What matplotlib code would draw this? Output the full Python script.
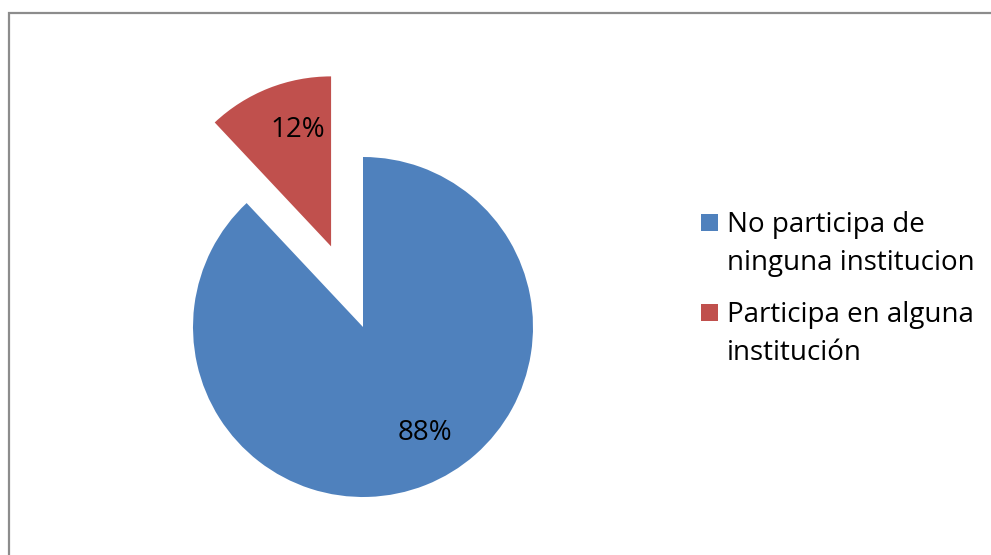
import matplotlib.pyplot as plt
from matplotlib.patches import Rectangle

labels = ['No participa de\nninguna institucion', 'Participa en alguna\ninstitución']
values = [88, 12]
colors = ['#4F81BD', '#C0504D']

W, H = 991, 555
fig = plt.figure(figsize=(W / 100, H / 100), dpi=100)
plt.rcParams['font.family'] = ['Open Sans', 'DejaVu Sans']

# pie axes: center (363, 327) px, radius 170 px
R = 170
cx, cy = 363, H - 327
k = 1.6
ax = fig.add_axes([(cx - R * k) / W, (cy - R * k) / H, 2 * R * k / W, 2 * R * k / H])

wedges, texts, autotexts = ax.pie(values, colors=colors, startangle=90, counterclock=False,
                                  explode=[0, 0.51], autopct='%1.0f%%', pctdistance=0.72,
                                  radius=1, textprops=dict(fontsize=20, color='black'))
ax.set_xlim(-k, k)
ax.set_ylim(-k, k)
ax.set_aspect('auto')
ax.axis('off')
for w in wedges:
    w.set_clip_on(False)
# nudge the percent labels to where Excel put them
autotexts[0].set_position((0.365, -0.624))
autotexts[1].set_position((-0.382, 1.159))

# outer frame, right/bottom edges fall outside the image
fig.add_artist(Rectangle((8.5 / W, -0.1), 1.2, (H - 12.5) / H + 0.1, transform=fig.transFigure,
                         fill=False, edgecolor='#8c8c8c', linewidth=1.6))

# legend, one text per line so the square lines up with the first line
ys = [232, 322]
for lab, col, y in zip(labels, colors, ys):
    fig.add_artist(Rectangle((701 / W, (H - y + 1) / H), 17 / W, 17 / H,
                             transform=fig.transFigure, facecolor=col, edgecolor='none'))
    for i, line in enumerate(lab.split('\n')):
        fig.text(727 / W, (H - y - 38 * i) / H, line, fontsize=20, va='baseline', ha='left')

fig.savefig('out.png', dpi=100)
